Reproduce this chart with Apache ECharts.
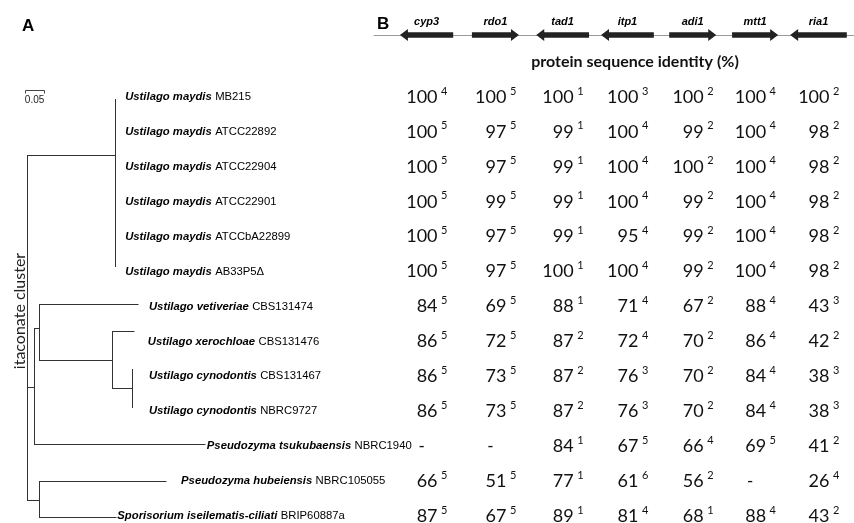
<!DOCTYPE html>
<html><head><meta charset="utf-8">
<script src="https://cdn.jsdelivr.net/npm/echarts@6/dist/echarts.min.js"></script>
<style>html,body{margin:0;padding:0;background:#fff}#c{width:854px;height:523px}</style>
</head><body><div id="c"></div>
<script>
// ---------------- DATA ----------------
const speciesNames = ['Ustilago maydis','Ustilago maydis','Ustilago maydis','Ustilago maydis','Ustilago maydis','Ustilago maydis',
  'Ustilago vetiveriae','Ustilago xerochloae','Ustilago cynodontis','Ustilago cynodontis',
  'Pseudozyma tsukubaensis','Pseudozyma hubeiensis','Sporisorium iseilematis-ciliati'];
const strainIds = ['MB215','ATCC22892','ATCC22904','ATCC22901','ATCCbA22899','AB33P5Δ',
  'CBS131474','CBS131476','CBS131467','NBRC9727','NBRC1940','NBRC105055','BRIP60887a'];

const genes = ['cyp3','rdo1','tad1','itp1','adi1','mtt1','ria1'];
const geneStart = [5.4, 20.4, 33.8, 47.3, 61.5, 74.6, 86.7];
const geneEnd   = [16.5, 30.2, 44.8, 58.3, 71.3, 84.2, 98.5];
const geneStrand = [-1, 1, -1, -1, 1, 1, -1];

// protein sequence identity (%) per gene, one value per strain (null = absent)
const cyp3Identity = [100,100,100,100,100,100,84,86,86,86,null,66,87];
const rdo1Identity = [100,97,97,99,97,97,69,72,73,73,null,51,67];
const tad1Identity = [100,99,99,99,99,100,88,87,87,87,84,77,89];
const itp1Identity = [100,100,100,100,95,100,71,72,76,76,67,61,81];
const adi1Identity = [100,99,100,99,99,99,67,70,70,70,66,56,68];
const mtt1Identity = [100,100,100,100,100,100,88,86,84,84,69,null,88];
const ria1Identity = [100,98,98,98,98,98,43,42,38,38,41,26,43];
// superscript numbers
const cyp3Sup = [4,5,5,5,5,5,5,5,5,5,null,5,5];
const rdo1Sup = [5,5,5,5,5,5,5,5,5,5,null,5,5];
const tad1Sup = [1,1,1,1,1,1,1,2,2,2,1,1,1];
const itp1Sup = [3,4,4,4,4,4,4,4,3,3,5,6,4];
const adi1Sup = [2,2,2,2,2,2,2,2,2,2,4,2,1];
const mtt1Sup = [4,4,4,4,4,4,4,4,4,4,5,null,4];
const ria1Sup = [2,2,2,2,2,2,3,2,3,3,2,4,2];

// phylogenetic tree: parent index, branch length (substitutions/site), vertical position (row units)
const nodeNames  = ['root','maydisClade','MB215','ATCC22892','ATCC22904','ATCC22901','ATCCbA22899','AB33P5','nodeB','nodeC','vetiveriae','nodeD','xerochloae','nodeE','cynCBS','cynNBRC','tsukubaensis','nodeF','hubeiensis','sporisorium'];
const nodeParent = [-1,0,1,1,1,1,1,1,0,8,9,9,11,11,13,13,8,0,17,17];
const branchLen  = [0,0.232,0,0,0,0,0,0,0.018,0.013,0.261,0.192,0.058,0.053,0,0,0.450,0.032,0.334,0.203];
const nodeRow    = [6.5,1.66,0.06,1,2,3,4,4.84,8.3,6.62,5.93,7.52,6.7,8.33,7.79,8.88,9.93,11.53,11.0,12.03];
const leafOfStrain = [2,3,4,5,6,7,10,12,14,15,16,18,19];
const scaleBarLength = 0.05;

// ---------------- STYLE ----------------
const labelGap = [10,10,10,10,10,10,11,14,17,17,2,15,1];
const treeColor = '#333';
const textColor = '#111';
const labelFontSize = 11.3;

// ---------------- BUILD ----------------
const nodeX = new Array(nodeNames.length).fill(0);
for (let i = 1; i < nodeNames.length; i++) nodeX[i] = nodeX[nodeParent[i]] + branchLen[i];
const treeData = nodeNames.map((n, i) => {
  const kids = [];
  nodeParent.forEach((p, j) => { if (p === i) kids.push(nodeRow[j]); });
  const px = nodeParent[i] >= 0 ? nodeX[nodeParent[i]] : nodeX[i];
  return [nodeX[i], nodeRow[i], px, kids.length ? Math.min(...kids) : nodeRow[i], kids.length ? Math.max(...kids) : nodeRow[i], kids.length];
});
const labelData = strainIds.map((s, r) => [nodeX[leafOfStrain[r]], r, labelGap[r]]);

const identities = [cyp3Identity, rdo1Identity, tad1Identity, itp1Identity, adi1Identity, mtt1Identity, ria1Identity];
const sups = [cyp3Sup, rdo1Sup, tad1Sup, itp1Sup, adi1Sup, mtt1Sup, ria1Sup];
const tableData = [];
genes.forEach((g, gi) => {
  const center = (geneStart[gi] + geneEnd[gi]) / 2;
  strainIds.forEach((s, r) => {
    const v = identities[gi][r];
    tableData.push([center, r, v == null ? -1 : v, sups[gi][r] == null ? -1 : sups[gi][r]]);
  });
});
const geneData = genes.map((g, i) => [geneStart[i], geneEnd[i], geneStrand[i], i]);

const h = v => Math.round(v) + 0.5;

const chart = echarts.init(document.getElementById('c'));
chart.setOption({
  animation: false,
  backgroundColor: '#fff',
  title: [
    {text: 'A', left: 17, top: 13, textStyle: {fontFamily: 'Liberation Sans', fontWeight: 'bold', fontSize: 17, color: '#000'}},
    {text: 'B', left: 372, top: 11, textStyle: {fontFamily: 'Liberation Sans', fontWeight: 'bold', fontSize: 17, color: '#000'}},
    {text: 'protein sequence identity (%)', left: 630, top: 49, textAlign: 'center',
     textStyle: {fontFamily: 'Lato', fontWeight: 'bold', fontSize: 16, color: '#111'}}
  ],
  graphic: [
    {type: 'text', x: 20, y: 311, rotation: Math.PI / 2,
     style: {text: 'itaconate cluster', align: 'center', verticalAlign: 'middle', fontFamily: 'Lato', fontSize: 16, fill: '#222'}}
  ],
  grid: [
    {left: 27, top: 97, width: 380, height: 419},
    {left: 374, top: 97, width: 480, height: 419},
    {left: 374, top: 35, width: 480, height: 10}
  ],
  xAxis: [
    {type: 'value', gridIndex: 0, min: 0, max: 1, show: false},
    {type: 'value', gridIndex: 1, min: 0, max: 100, show: false},
    {type: 'value', gridIndex: 2, min: 0, max: 100, position: 'top',
     axisLine: {show: true, lineStyle: {color: '#999', width: 1}}, axisTick: {show: false}, axisLabel: {show: false}, splitLine: {show: false}}
  ],
  yAxis: [
    {type: 'value', gridIndex: 0, min: 0, max: 12, inverse: true, show: false},
    {type: 'value', gridIndex: 1, min: 0, max: 12, inverse: true, show: false},
    {type: 'value', gridIndex: 2, min: 0, max: 1, inverse: true, show: false}
  ],
  series: [
    { // tree branches
      type: 'custom', xAxisIndex: 0, yAxisIndex: 0, clip: false, silent: true,
      data: treeData,
      renderItem(params, api) {
        const x = api.value(0), row = api.value(1), px = api.value(2), vmin = api.value(3), vmax = api.value(4), nk = api.value(5);
        const children = [];
        const style = {stroke: treeColor, lineWidth: 1};
        if (params.dataIndex > 0) {
          const a = api.coord([px, row]), b = api.coord([x, row]);
          if (Math.abs(b[0] - a[0]) > 0.5)
            children.push({type: 'line', shape: {x1: h(a[0]), y1: h(a[1]), x2: h(b[0]), y2: h(b[1])}, style});
        }
        if (nk > 0) {
          const a = api.coord([x, vmin]), b = api.coord([x, vmax]);
          children.push({type: 'line', shape: {x1: h(a[0]), y1: h(a[1]) - 0.5, x2: h(b[0]), y2: h(b[1]) + 0.5}, style});
        }
        return {type: 'group', children};
      }
    },
    { // scale bar
      type: 'custom', xAxisIndex: 0, yAxisIndex: 0, clip: false, silent: true,
      data: [[scaleBarLength]],
      renderItem(params, api) {
        const len = api.value(0);
        const a = api.coord([-0.005, -0.2]), b = api.coord([-0.005 + len, -0.2]);
        const st = {stroke: '#444', lineWidth: 1};
        return {type: 'group', children: [
          {type: 'line', shape: {x1: h(a[0]), y1: h(a[1]), x2: h(b[0]), y2: h(b[1])}, style: st},
          {type: 'line', shape: {x1: h(a[0]), y1: h(a[1]), x2: h(a[0]), y2: h(a[1]) + 3}, style: st},
          {type: 'line', shape: {x1: h(b[0]), y1: h(b[1]), x2: h(b[0]), y2: h(b[1]) + 3}, style: st},
          {type: 'text', style: {text: String(len), x: (a[0] + b[0]) / 2, y: a[1] + 10, align: 'center', verticalAlign: 'middle',
            fontFamily: 'Liberation Sans', fontSize: 10, fill: '#222'}}
        ]};
      }
    },
    { // leaf labels
      type: 'custom', xAxisIndex: 0, yAxisIndex: 0, clip: false, silent: true,
      data: labelData,
      renderItem(params, api) {
        const r = params.dataIndex;
        const p = api.coord([api.value(0), api.value(1)]);
        return {type: 'text', style: {
          text: '{sp|' + speciesNames[r] + '} {st|' + strainIds[r] + '}',
          x: p[0] + api.value(2), y: p[1], align: 'left', verticalAlign: 'middle',
          rich: {
            sp: {fontFamily: 'Liberation Sans', fontWeight: 'bold', fontStyle: 'italic', fontSize: labelFontSize, fill: '#000'},
            st: {fontFamily: 'Liberation Sans', fontSize: labelFontSize, fill: '#000'}
          }
        }};
      }
    },
    { // table of identities
      type: 'custom', xAxisIndex: 1, yAxisIndex: 1, clip: false, silent: true,
      data: tableData,
      renderItem(params, api) {
        const v = api.value(2), s = api.value(3);
        const p = api.coord([api.value(0), api.value(1)]);
        if (v < 0) {
          return {type: 'text', style: {text: '-', x: p[0] - 5, y: p[1], align: 'center', verticalAlign: 'middle',
            fontFamily: 'Lato', fontSize: 17, fill: textColor}};
        }
        return {type: 'group', children: [
          {type: 'text', style: {text: String(v), x: p[0] + 11, y: p[1], align: 'right', verticalAlign: 'middle',
            fontFamily: 'Lato', fontSize: 18, fill: textColor}},
          {type: 'text', style: {text: String(s), x: p[0] + 14.5, y: p[1] - 6, align: 'left', verticalAlign: 'middle',
            fontFamily: 'Lato', fontSize: 11, fill: textColor}}
        ]};
      }
    },
    { // gene arrows
      type: 'custom', xAxisIndex: 2, yAxisIndex: 2, clip: false, silent: true,
      data: geneData,
      renderItem(params, api) {
        const a = api.coord([api.value(0), 0]), b = api.coord([api.value(1), 0]);
        const dir = api.value(2);
        const y = a[1];
        const head = 8, bw = 2.7, hw = 6;
        let pts;
        if (dir < 0) {
          const x0 = a[0], x1 = b[0];
          pts = [[x0, y], [x0 + head, y - hw], [x0 + head, y - bw], [x1, y - bw], [x1, y + bw], [x0 + head, y + bw], [x0 + head, y + hw]];
        } else {
          const x0 = a[0], x1 = b[0];
          pts = [[x1, y], [x1 - head, y - hw], [x1 - head, y - bw], [x0, y - bw], [x0, y + bw], [x1 - head, y + bw], [x1 - head, y + hw]];
        }
        return {type: 'group', children: [
          {type: 'polygon', shape: {points: pts}, style: {fill: '#222', stroke: null}},
          {type: 'text', style: {text: genes[params.dataIndex], x: (a[0] + b[0]) / 2, y: y - 13, align: 'center', verticalAlign: 'middle',
            fontFamily: 'Liberation Sans', fontWeight: 'bold', fontStyle: 'italic', fontSize: 11, fill: '#000'}}
        ]};
      }
    }
  ]
});
</script></body></html>
